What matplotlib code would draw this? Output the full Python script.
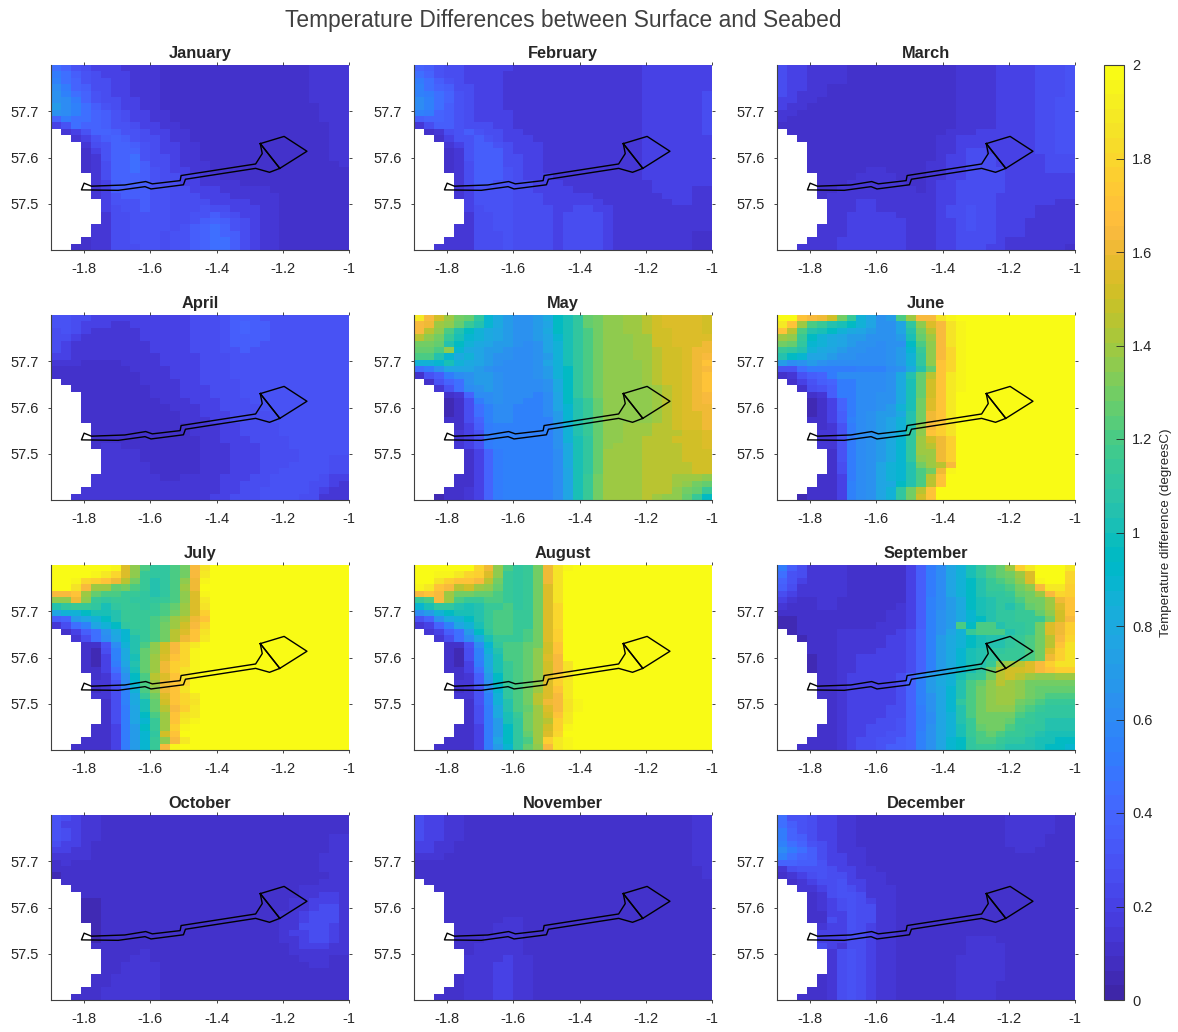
import numpy as np
import matplotlib
matplotlib.use("Agg")
import matplotlib.pyplot as plt
from matplotlib.colors import ListedColormap

plt.rcParams['font.family'] = ['Liberation Sans', 'DejaVu Sans']

# Monthly grids, read cell by cell: 29 rows (north to south) x 30 columns (west to east).
# Each character is one cell in steps of 0.05 degC, '.' is land.
CODE = "0123456789abcdefghijklmnopqrstuvwxyzABCDE"

january = [
"9865444333 3222222222 2222223333","a976544433 3222222222 2222223333","b986554433 3222222222 2222223333",
"ca87554433 3222222222 2222223333","db98654433 3222222222 2222223333","dca8655443 3222222222 2222223333",
"ecb9765443 3222222222 2222222333","dcb9876544 3322222222 2222222333","8a99876544 3322222222 2222222333",
"4698876654 4332222222 2222222233",".346887665 4433222222 2222222233","..34678765 5433222222 2222222233",
"...3568876 5443322222 2222222233","...2468886 5443322222 2222222233","...2368896 5543322222 2222222233",
"...2358897 5543332222 2222222223","...2358897 6544332222 2222222222","....358887 6554433222 2222222222",
"....347887 6554433332 2222222222","....347777 6655444333 3322222222","....346777 6655544433 3332222222",
".....46667 6655554444 3332222222",".....45667 6655565544 4332222222",".....35566 6655667654 4332222222",
".....35566 6655678765 4332222222","....335566 6656789865 4332222222","....335566 6566789875 4332222222",
"...2335566 6566789975 4332222222","..22335556 6566789975 4332222222"]

february = [
"8765544444 3333333333 3334444444","9865544443 3333333333 3334444444","a976544443 3333333333 3334444444",
"b987554443 3333333333 3334444444","ba98654443 3333333333 3334444445","cb98654443 3333333333 3334444445",
"cb97654443 3333333333 3334444445","ba87654444 3333333333 3334444445","7887654444 3333333333 3334444445",
"3577655544 3333333333 3334444445",".235676554 4333333333 3334444445","..24667654 4433333333 3334444444",
"...3467765 4443333333 3334444444","...2367775 4443333333 3334444444","...2367775 5443333333 3334444444",
"...2357775 5443333333 3334444444","...2357776 5443333333 3334444444","....357776 5444333333 3334444444",
"....357766 5544433333 3333444444","....346666 5544443333 3333444433","....346666 5554444433 3333344433",
".....46666 5554444443 3333334433",".....45666 5555445544 3333333333",".....35566 5555455554 3333333333",
".....35566 5555455554 3333333333","....335566 5555455554 3333333333","....335556 5555455554 3333333322",
"...3335556 5555455554 3333333322","..33335556 5555455554 3333333322"]

march = [
"5443333222 2222222233 3344445556","5443333222 2222222233 3344445556","5443333222 2222222233 3344445556",
"5443322222 2222222233 3344445556","5433322222 2222222233 3344445556","4433222222 2222222233 3344445566",
"4332222222 2222222233 3344445566","3322222222 2222222233 3344445566","3222222222 2222222233 3344445566",
"2222222222 2222222233 3344445566",".222222222 2222222333 4444445566","..22222222 2222223344 4444445566",
"...2222222 2222223344 4444445566","...2222222 2222223345 5444445566","...2222222 2222223445 5544444555",
"...2222222 2222233445 5544444555","...2222223 3222233445 5554444555","....222233 3322233445 5554444444",
"....222333 3332234455 5554444444","....223333 3333234455 5554444444","....233333 3333334455 5544444444",
".....33344 3333334455 5544444433",".....33344 3333334556 5544443333",".....33444 4433334556 5544443333",
".....33444 4443334456 5544433333","....333444 4443334456 5544433333","....333444 4443334455 5544433333",
"...3334444 4443334455 5543333333","..33334444 4443334455 5443333332"]

april = [
"6655444444 4444555677 7666666666","6654443344 4444555678 7766666666","5654333334 4444555678 7766666666",
"5543333334 4444555677 7766666666","5433333333 4444555677 7666666666","5433333333 4444555667 6666666666",
"4433333333 3444455566 6666666666","3332222333 3444455566 6666666666","2222222233 3344455566 6666666666",
"2222222223 3344455566 6666666666",".222222223 3334455556 6666666666","..22222222 3334445556 6666666666",
"...2222222 3334445556 6666666666","...2222222 2333444555 6666666666","...2222222 2233344555 5666666666",
"...2222222 2223344455 5566666666","...2222222 2223334455 5566666666","....222222 2222333445 5556666666",
"....222222 2222333445 5556666666","....222222 2222233444 5555666666","....233222 2222233344 4555666666",
".....33332 2222233344 4555566666",".....33332 2222233344 4555566655",".....33333 2222233344 4555666655",
".....33333 2222233344 4556666655","....333333 3223333444 5566666544","....333333 3333333445 5566665543",
"...3333333 3333333445 5666665433","..33333333 3333334455 5666655333"]

may = [
"Cxusqpmige ddegjkmpqr rsstuvvvvu","xwsrpnlige ddefjkmpqr rsstuvvvvu","xtroljhgfe ddegjkmoqr rsstuuvvvu",
"trqnkihgfe ddefikmoqr rrssuuvvvv","qqpljhgfee dcdfhkmoqr rrssuuvvvw","pporigfeed ccdfhkmoqr rrsstuuvww",
"oolighfedd ccdehkmoqr rrsstuuvwx","hhikhgfedc ccdfhkmoqr rrrstuuvwy","9adfffedcc ccdehjmoqr rrrstuuvwx",
"267acdeedc ccdehjmoqr rrrstuuvwy",".2689deedc cccdgjmoqr rrrstuuvwy","..369cdedc cccdgjmoqr rrrrstuvwy",
"...238ccdc ccbcfjmoqr rrrrstuvwx","...125acdc cbbcfjlnpr rrrrstuvwx","...1259bcc bbbcfilnpr rrrrstuvww",
"...1259bcc bbbceilnpr rrrrstuvvw","...2258bcc bbbbeilnpr rrrrstuvvw","....247abb bbbbdhlnpr rsssttuvvw",
"....346abb bbbbdhlnpr rssstttuuv","....346abb bbbbdhkmpr rsstttuuuv","....346abb bbbbdgkmpr sssttttuuv",
".....248ab bbbbcgkmps sssttttuuu",".....248ab bbbbcgkmps sssttttuuu",".....248ab bbbbcgkmps ssstttttuu",
".....248ab bbbbcfkmps ssstttttuu","....2248ab bbbbcfknqs ssstttsssr","....2248ab bbbbcfknqs ssstttsrqp",
"...22348ab bbbbcfknqs ssstttrqpn","..122348ab bbbbcfknqs ssstsrrpnj"]

june = [
"EEyxwuqnhf deosxxBDEE EEEEEEEEEE","Cysonlkjhf ddfmrvxBDE EEEEEEEEEE","ytolkjhgfe ddflqtxBDE EEEEEEEEEE",
"srnjhgfeed ddekpsxBDE EEEEEEEEEE","qpmihgfedd cddjorxBDE EEEEEEEEEE","nmlhgfeddc cdeinrxADE EEEEEEEEEE",
"ljiffeddcc cdehmrxADE EEEEEEEEEE","ecdedccccc cdehmryADE EEEEEEEEEE","669aaaaabb bcdglpyADE EEEEEEEEEE",
"23678acccc cdglptyCDE EEEEEEEEEE",".24678aacc cdgkpuyCDE EEEEEEEEEE","..2567aacc cdgkpuyCDE EEEEEEEEEE",
"...237aacc ddgkpuyCEE EEEEEEEEEE","...1248acc ddgkqvyCEE EEEEEEEEEE","...1248acc dehkqvyCEE EEEEEEEEEE",
"...1247acd eeglqwyCEE EEEEEEEEEE","...2247bcd efhlqwyCEE EEEEEEEEEE","....236acd efhlrxzBEE EEEEEEEEEE",
"....336acd efhmryzBEE EEEEEEEEEE","....336acd egimsuwzEE EEEEEEEEEE","....336acd egimstwzEE EEEEEEEEEE",
".....26acd egimsswzEE EEEEEEEEEE",".....26acd egimrswzEE EEEEEEEEEE",".....25acd fhilqstxEE EEEEEEEEEE",
".....25acd fhiloqwDEE EEEEEEEEEE","....224acd fhilotyEEE EEEEEEEEEE","....224bcd fgjlotyEEE EEEEEEEEEE",
"...2224bcd fhmqtyEEEE EEEEEEEEEE","..12224bcd fhmquyEEEE EEEEEEEEEE"]

july = [
"EEEEEEDvro mmoqxBEEEE EEEEEEEEEE","EEEEDCAvrn mmoqxCEEEE EEEEEEEEEE","EEDAzywtqn lmorwDEEEE EEEEEEEEEE",
"EEBxsspqon lmoswEEEEE EEEEEEEEEE","xxyspoonnm lmorvDEEEE EEEEEEEEEE","rrwrnmnnmm mnorvCEEEE EEEEEEEEEE",
"lmnnmkmnnm nopsvBEEEE EEEEEEEEEE","fhhjkklnnn noqsvzEEEE EEEEEEEEEE","78efhjlnnn opstwyEEEE EEEEEEEEEE",
"359bfhjmnn oqsuxAEEEE EEEEEEEEEE",".2479dgimn oqtvyBEEEE EEEEEEEEEE","..359cfiln oqtwyCEEEE EEEEEEEEEE",
"...226chlo ruxACEEEEE EEEEEEEEEE","...215bglp ruxADEEEEE EEEEEEEEEE","...214bgkp svyADEEEEE EEEEEEEEEE",
"...214aflp swzADEEEEE EEEEEEEEEE","...2249ekp swzBDEEEEE EEEEEEEEEE","....237djo tvyBDEEEEE EEEEEEEEEE",
"....336cio swyAEEEEEE EEEEEEEEEE","....235bho rwyBEEEEEE EEEEEEEEEE","....335bgn qvyACEEEEE EEEEEEEEEE",
".....25bgk puyABEEEEE EEEEEEEEEE",".....25afk ptxzCEEEEE EEEEEEEEEE",".....25afj osyBCEEEEE EEEEEEEEEE",
".....25afi nsyCDEEEEE EEEEEEEEEE","....224aej nszDEEEEEE EEEEEEEEEE","....224aei muyEEEEEEE EEEEEEEEEE",
"...2224aei nrxCEEEEEE EEEEEEEEEE","..22224aei nxDEEEEEEE EEEEEEEEEE"]

august = [
"EEEEEEAwro mnqwBDEEEE EEEEEEEEEE","EEDDCAzvrn mnqwBEEEEE EEEEEEEEEE","EEBzyyxtqn mnqwBEEEEE EEEEEEEEEE",
"DCyxtusrpn mnqvBEEEEE EEEEEEEEEE","xyxsqqppon mnqvBEEEEE EEEEEEEEEE","noxsonnoon mnqvBEEEEE EEEEEEEEEE",
"ikmmlklnno mnqvAEEEEE EEEEEEEEEE","cehjkklnoo nnqvAEEEEE EEEEEEEEEE","68dghjlnoo nnqvAEEEEE EEEEEEEEEE",
"348bfhknoo nnqvAEEEEE EEEEEEEEEE",".3479ejmoo noqvzEEEEE EEEEEEEEEE","..359cgknn noqvzEEEEE EEEEEEEEEE",
"...226cimo opquyEEEEE EEEEEEEEEE","...215bhlo opruyEEEEE EEEEEEEEEE","...215bgko oprvxEEEEE EEEEEEEEEE",
"...214agkn opruxBEEEE EEEEEEEEEE","...2249fkn opruxBEEEE EEEEEEEEEE","....237ejn oprvzBEEEE EEEEEEEEEE",
"....337djn oprvzCEEEE EEEEEEEEEE","....236cim oqsvyCEEEE EEEEEEEEEE","....336bhm oqtvxCEEEE EEEEEEEEEE",
".....26bhl oqtwxBDEEE EEEEEEEEEE",".....25agl opsvxBDEEE EEEEEEEEEE",".....25agk nqsuyCEEEE EEEEEEEEEE",
".....25aek mqstzCEEEE EEEEEEEEEE","....224aej mqsuzDEEEE EEEEEEEEEE","....224aej mpsvAEEEEE EEEEEEEEEE",
"...2224afj moszCDEEEE EEEEEEEEEE","..22224aei mprxCDEEEE EEEEEEEEEE"]

september = [
"a753333222 22247acfhk mopszCEEEC","9653333222 22247acfhk mopqsvEEEA","8643333222 22247acfhj lnoprvDEEA",
"7533333222 22247acfhj lnnoqrxCCz","5433333222 22247acfhj lmmnpqsxAz","4322332222 22247bcegj klmmoqqswy",
"3222332222 22347bcegj klmlnpqsvy","2222222222 23347bdegi klmmnnpruy","1122222222 23347bdegi jlmmnnnqux",
"1122222222 33347bdeoj oolmmnqvwz",".122223333 33458bdfhn ooolmnqvwz","..12223333 34458beghj kllmnoqtxA",
"...2223333 34458beghj kllmnoqtyB","...2223333 44458begik lmmnnoqvzB","...1223344 44458begik lmnnnoqwzB",
"...1223344 44458begik lnrstvxzBB","...1223344 44458begik mptuuvxyzz","....223444 4458beghkm nqtutsrrss",
"....223444 4458beghlo prtsrqqqqq","....223444 4458befilo qrssrqpppp","....223444 4458bdfilo qrssrqpooo",
".....23444 4458bdfimo qrssqponnn",".....23444 4558adfilo qrrrponmmm",".....23444 4558acfhlo qqqqonmmmm",
".....23444 5568acfhln qqqpnnmlll","....223445 5568adfhkn pqqonmmlll","....223445 5668bdfhkn oponnmlkkk",
"...2223455 6678bdfijm oonmmlkkjj","..22223455 6778bdfijm nnmlllkjji"]

october = [
"6543322222 2222222222 2222222222","6443322222 2222222222 2222222222","6543322222 2222222222 2222222222",
"6543322222 2222222222 2222222233","5443222222 2222222222 2222222233","4433222222 2222222222 2222222233",
"3333222222 2222222222 2222222333","2322222222 2222222222 2222222333","2222222222 2222222222 2222222333",
"1222222222 2222222222 2222222233",".222222222 2222222222 2222222333","..22222222 2222222222 2222233333",
"...2222222 2222222222 2222233443","...1122222 2222222222 2222334443","...1122222 2222222222 2222334553",
"...1122222 2222222222 2223345553","...1122222 2222222222 2223345553","....122222 2222222222 2223355543",
"....122222 2222222222 2223445543","....122222 2222222222 2223345543","....222222 2222222222 2222344433",
".....22223 2222222222 2222333333",".....22233 2222222222 2222233322",".....22333 3222222222 2222223322",
".....22333 3222222222 2222222222","....223333 3222222222 2222222222","....223333 3222222222 2222222222",
"...2233333 3222222222 2222222222","..22233333 3222222222 2222222222"]

november = [
"5443322222 2222222222 2222222233","5443322222 2222222222 2222222233","5443322222 2222222222 2222222233",
"5443322222 2222222222 2222222233","4433222222 2222222222 2222222233","4433222222 2222222222 2222222233",
"3332222222 2222222222 2222222233","2222222222 2222222222 2222222233","2222222222 2222222222 2222222223",
"2222222222 2222222222 2222222223",".222222222 2222222222 2222222222","..22222222 2222222222 2222222222",
"...2222222 2222222222 2222222222","...2222222 2222222222 2222222222","...2222222 2222222222 2222222222",
"...2222222 2222222222 2222222222","...2222223 3222222222 2222222222","....222233 3222222222 2222222222",
"....222233 3222222222 2222222222","....222333 3222222222 2222222222","....223333 3222222222 2222222222",
".....23333 3222222222 2222222222",".....33334 3322222222 2222222222",".....33344 3322222222 2222222222",
".....33344 3322222222 2222222222","....233344 3322222222 2222222222","....233344 3322222222 2222222222",
"...2233344 3322222222 2222222222","..22233344 3322222222 2222222222"]

december = [
"9665443322 2222222222 2223333322","9765443322 2222222222 2223333322","a865443322 2222222222 2223333322",
"a875443322 2222222222 2223333222","b986543322 2222222222 2223333222","ca97543332 2222222222 2222332222",
"b987544332 2222222222 2222222222","8877644332 2222222222 2222222222","3566654433 2222222222 2222222222",
"2345655433 3222222222 2222222222",".234556443 3222222222 2222222222","..33456543 3322222222 2222222222",
"...2356653 3322222222 2222222222","...2345654 3322222222 2222222222","...2345655 3322222222 2222222222",
"...2244655 3322222222 2222222222","...2254655 3322222222 2222222222","....344654 3322222222 2222222222",
"....444554 3322222222 2222222222","....444554 3322222223 3322222222","....543554 3322222223 3332222222",
".....35654 3322222223 3332222222",".....35654 3322222233 3332222222",".....35654 3322222233 3332222222",
".....35654 3322222233 3332222222","....235654 3322222233 3332222222","....235654 3322222233 3322222222",
"...2235654 3322222233 3322222222","..22235654 3322222233 3322222222"]

month_names = ["January", "February", "March", "April", "May", "June", "July",
               "August", "September", "October", "November", "December"]
month_grids = [january, february, march, april, may, june, july,
               august, september, october, november, december]

# Site outline and export cable route, lon/lat
farm_lon = [-1.268, -1.196, -1.127, -1.209, -1.268]
farm_lat = [57.630, 57.6456, 57.6135, 57.5765, 57.630]
cable_lon = [-1.268, -1.262, -1.282, -1.507, -1.510, -1.594, -1.614, -1.677, -1.778, -1.800,
             -1.808, -1.697, -1.616, -1.598, -1.500, -1.494, -1.282, -1.240, -1.209]
cable_lat = [57.630, 57.6085, 57.586, 57.561, 57.550, 57.543, 57.548, 57.5406, 57.538, 57.5445,
             57.530, 57.529, 57.537, 57.532, 57.541, 57.553, 57.5765, 57.568, 57.5765]

x_ticks = [-1.8, -1.6, -1.4, -1.2, -1.0]
x_tick_labels = ["-1.8", "-1.6", "-1.4", "-1.2", "-1"]
y_ticks = [57.5, 57.6, 57.7]
y_tick_labels = ["57.5", "57.6", "57.7"]
cbar_ticks = [0, 0.2, 0.4, 0.6, 0.8, 1, 1.2, 1.4, 1.6, 1.8, 2]
cbar_tick_labels = ["0", "0.2", "0.4", "0.6", "0.8", "1", "1.2", "1.4", "1.6", "1.8", "2"]

parula = ListedColormap([
(.2422,.1504,.6603),(.2504,.1650,.7076),(.2578,.1818,.7511),(.2647,.1978,.7952),(.2706,.2147,.8364),
(.2751,.2342,.8710),(.2783,.2559,.8991),(.2803,.2782,.9221),(.2813,.3006,.9414),(.2810,.3228,.9579),
(.2795,.3447,.9717),(.2760,.3667,.9829),(.2699,.3892,.9906),(.2602,.4123,.9952),(.2440,.4358,.9988),
(.2206,.4603,.9973),(.1963,.4847,.9892),(.1834,.5074,.9798),(.1786,.5289,.9682),(.1764,.5499,.9520),
(.1687,.5703,.9359),(.1540,.5902,.9218),(.1460,.6091,.9079),(.1380,.6276,.8973),(.1248,.6459,.8883),
(.1113,.6635,.8763),(.0952,.6798,.8598),(.0689,.6948,.8394),(.0297,.7082,.8163),(.0036,.7203,.7917),
(.0067,.7312,.7660),(.0433,.7411,.7394),(.0964,.7500,.7120),(.1408,.7584,.6842),(.1717,.7670,.6554),
(.1938,.7758,.6251),(.2161,.7843,.5923),(.2470,.7918,.5567),(.2906,.7973,.5188),(.3406,.8008,.4789),
(.3909,.8029,.4354),(.4456,.8024,.3909),(.5044,.7993,.3480),(.5616,.7942,.3045),(.6174,.7876,.2612),
(.6720,.7793,.2227),(.7242,.7698,.1910),(.7738,.7598,.1646),(.8203,.7498,.1535),(.8634,.7406,.1596),
(.9035,.7330,.1774),(.9393,.7288,.2100),(.9728,.7298,.2394),(.9956,.7434,.2371),(.9970,.7659,.2199),
(.9952,.7893,.2028),(.9892,.8136,.1885),(.9786,.8386,.1766),(.9676,.8639,.1643),(.9610,.8890,.1537),
(.9597,.9135,.1423),(.9628,.9373,.1265),(.9691,.9606,.1064),(.9769,.9839,.0805)])
parula.set_bad("white")


def decode(rows):
    out = []
    for row in rows:
        s = row.replace(" ", "")
        s = (s + s[-1] * 30)[:30]
        out.append([np.nan if c == "." else CODE.index(c) * 0.05 for c in s])
    return np.array(out)


W, H = 1178, 1032
fig = plt.figure(figsize=(W / 100, H / 100), dpi=100, facecolor="white")


def rect(x0, y0, x1, y1):
    return [x0 / W, 1 - y1 / H, (x1 - x0) / W, (y1 - y0) / H]


lefts = [51, 414, 777]
tops = [65, 315, 565, 815]
lon_edges = np.linspace(-1.9, -1.0, 31)
lat_edges = np.linspace(57.8, 57.4, 30)
DARK = "#262626"

mesh = None
for i, (name, rows) in enumerate(zip(month_names, month_grids)):
    r, c = divmod(i, 3)
    ax = fig.add_axes(rect(lefts[c], tops[r], lefts[c] + 298, tops[r] + 185))
    mesh = ax.pcolormesh(lon_edges, lat_edges, decode(rows), cmap=parula, vmin=0, vmax=2,
                         shading="flat", rasterized=True)
    ax.plot(farm_lon, farm_lat, color="black", lw=1.0)
    ax.plot([farm_lon[0], farm_lon[3]], [farm_lat[0], farm_lat[3]], color="black", lw=1.0)
    ax.plot(cable_lon, cable_lat, color="black", lw=1.0)
    ax.set_xlim(-1.9, -1.0)
    ax.set_ylim(57.4, 57.8)
    ax.set_xticks(x_ticks, x_tick_labels)
    ax.set_yticks(y_ticks, y_tick_labels)
    ax.tick_params(direction="out", length=2.5, width=0.6, color=DARK, labelcolor=DARK,
                   labelsize=10.5, top=True, right=True, pad=6)
    ax.spines["top"].set_visible(False)
    ax.spines["right"].set_visible(False)
    for s in ("left", "bottom"):
        ax.spines[s].set_linewidth(0.8)
        ax.spines[s].set_color("#404040")
    ax.set_title(name, fontsize=11.8, fontweight="bold", color=DARK, pad=5)

cax = fig.add_axes(rect(1104, 65, 1124, 1000))
cb = fig.colorbar(mesh, cax=cax)
cb.set_ticks(cbar_ticks, labels=cbar_tick_labels)
cb.ax.tick_params(direction="in", length=6, width=0.6, color=DARK, labelcolor=DARK,
                  labelsize=10.5, pad=6)
cb.outline.set_linewidth(0.8)
cb.outline.set_edgecolor("#404040")
fig.text(1166 / W, 1 - 533 / H, "Temperature difference (degreesC)", rotation=90,
         ha="center", va="center", fontsize=9.6, color=DARK)
fig.text(563 / W, 1 - 20 / H, "Temperature Differences between Surface and Seabed",
         ha="center", va="center", fontsize=16.4, color="#404040")

fig.savefig("out.png", dpi=100)
